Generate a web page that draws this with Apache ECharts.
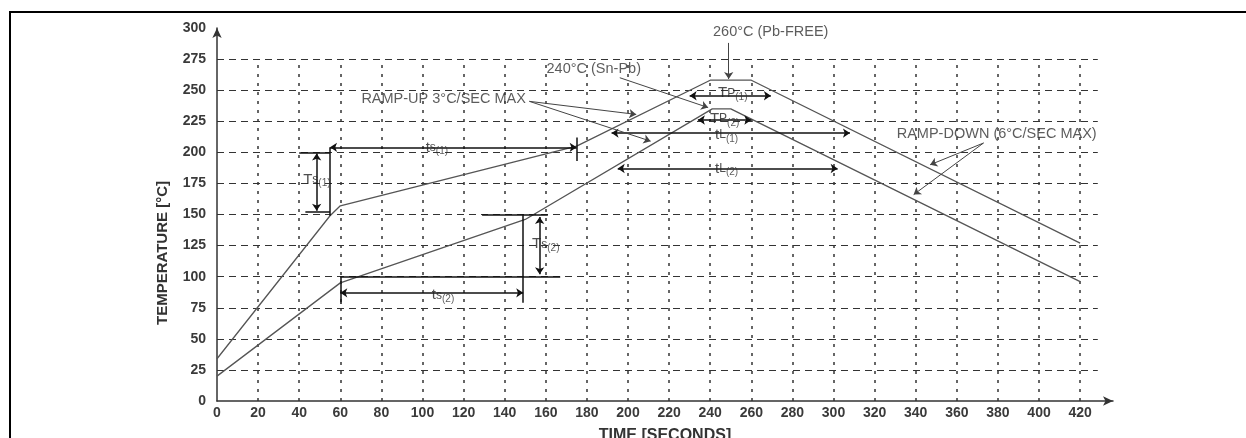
<!DOCTYPE html>
<html>
<head>
<meta charset="utf-8">
<script src="https://cdn.jsdelivr.net/npm/echarts@6/dist/echarts.min.js"></script>
<style>
  html, body { margin: 0; padding: 0; background: #fff; }
  #chart { width: 1246px; height: 438px; }
</style>
</head>
<body>
<div id="chart"></div>
<script>
// axis ticks
const timeTicks = [0, 20, 40, 60, 80, 100, 120, 140, 160, 180, 200, 220, 240, 260, 280, 300, 320, 340, 360, 380, 400, 420];
const tempTicks = [0, 25, 50, 75, 100, 125, 150, 175, 200, 225, 250, 275, 300];

// reflow profiles
const pbFreeTime = [0, 55, 60, 175, 240, 260, 420];
const pbFreeTemp = [34, 149, 157, 205, 258, 258, 127];
const snPbTime = [0, 60, 150, 241, 250, 420];
const snPbTemp = [20, 95, 146, 235, 235, 96];

// extent of the dashed grid
const gridTopTemp = 275;
const gridEndTime = 428.6;

// annotation geometry, in [time, temp]
const bracketLines = [
  [[55, 149], [55, 204]],
  [[175, 193], [175, 212]],
  [[40, 200], [55, 200]],
  [[43, 152], [55, 152]],
  [[60, 78], [60, 100]],
  [[149, 79], [149, 150]],
  [[129, 150], [161, 150]],
  [[60, 100], [167, 100]]
];
const spanArrows = [
  [[55, 204], [175, 204]],
  [[48.5, 153], [48.5, 199]],
  [[60, 87], [149, 87]],
  [[157, 102], [157, 148]],
  [[230, 245.5], [269.5, 245.5]],
  [[234, 226], [260, 226]],
  [[192, 215.5], [308, 215.5]],
  [[195, 187], [302, 187]]
];
const leaderArrows = [
  [[249, 288], [249, 259]],
  [[196, 260], [239, 236]],
  [[152, 241], [204, 230.5]],
  [[152, 241], [211, 209]],
  [[373, 207.5], [347, 190]],
  [[373, 207.5], [339, 166]]
];

// annotation texts
const plainNotes = [
  { text: '260°C (Pb-FREE)', at: [241.6, 296] },
  { text: '240°C (Sn-Pb)', at: [160.6, 266.5] },
  { text: 'RAMP-UP 3°C/SEC MAX', at: [70.5, 242.5] },
  { text: 'RAMP-DOWN (6°C/SEC MAX)', at: [331, 214] }
];
const subNotes = [
  { main: 't', mid: 's', sub: '(1)', at: [107, 204] },
  { main: 'T', mid: 's', sub: '(1)', at: [48.6, 178] },
  { main: 't', mid: 's', sub: '(2)', at: [110, 85] },
  { main: 'T', mid: 's', sub: '(2)', at: [160, 126] },
  { main: 'T', mid: 'P', sub: '(1)', at: [251, 247.5] },
  { main: 'T', mid: 'P', sub: '(2)', at: [247, 227] },
  { main: 't', mid: 'L', sub: '(1)', at: [248, 214] },
  { main: 't', mid: 'L', sub: '(2)', at: [248, 187] }
];

const FONT = '"Liberation Sans", Arial, sans-serif';
const zip = (xs, ys) => xs.map((x, i) => [x, ys[i]]);

const chart = echarts.init(document.getElementById('chart'));

const vGrid = timeTicks.filter(t => t > 0).map(t => ({ coords: [[t, 0], [t, gridTopTemp]] }));
const hGrid = tempTicks.filter(v => v > 0 && v <= gridTopTemp).map(v => ({ coords: [[0, v], [gridEndTime, v]] }));

const option = {
  animation: false,
  backgroundColor: '#fff',
  grid: { left: 217, right: 133, top: 28, bottom: 37, outerBoundsMode: 'none', containLabel: false },
  xAxis: {
    type: 'value', min: 0, max: 436, interval: 20,
    axisLine: { show: true, symbol: ['none', 'arrow'], symbolSize: [7, 10], lineStyle: { color: '#333', width: 1.5 } },
    axisTick: { show: false },
    splitLine: { show: false },
    axisLabel: { showMaxLabel: false, margin: 5, fontSize: 14, fontWeight: 'bold', color: '#3a3a3a', fontFamily: FONT },
    name: 'TIME [SECONDS]', nameLocation: 'middle', nameGap: 27,
    nameTextStyle: { fontSize: 16, fontWeight: 'bold', color: '#333', fontFamily: FONT }
  },
  yAxis: {
    type: 'value', min: 0, max: 300, interval: 25,
    axisLine: { show: true, symbol: ['none', 'arrow'], symbolSize: [7, 10], lineStyle: { color: '#333', width: 1.5 } },
    axisTick: { show: false },
    splitLine: { show: false },
    axisLabel: { margin: 11, fontSize: 14, fontWeight: 'bold', color: '#3a3a3a', fontFamily: FONT }
  },
  graphic: [
    {
      type: 'rect', silent: true,
      shape: { x: 10, y: 12, width: 1300, height: 500 },
      style: { fill: 'none', stroke: '#000', lineWidth: 2 }
    },
    {
      type: 'text', silent: true, x: 163, y: 253, rotation: Math.PI / 2,
      style: { text: 'TEMPERATURE [°C]', align: 'center', verticalAlign: 'middle', font: 'bold 15px ' + FONT, fill: '#333' }
    }
  ],
  series: [
    {
      type: 'lines', coordinateSystem: 'cartesian2d', silent: true, z: 1,
      lineStyle: { color: '#333', width: 1.5, type: [3, 6], opacity: 1 },
      data: vGrid
    },
    {
      type: 'lines', coordinateSystem: 'cartesian2d', silent: true, z: 1,
      lineStyle: { color: '#333', width: 1.2, type: [7, 5], opacity: 1 },
      data: hGrid
    },
    {
      name: 'Pb-free', type: 'line', z: 3, showSymbol: false, silent: true,
      lineStyle: { color: '#555', width: 1.3 },
      data: zip(pbFreeTime, pbFreeTemp)
    },
    {
      name: 'Sn-Pb', type: 'line', z: 3, showSymbol: false, silent: true,
      lineStyle: { color: '#555', width: 1.3 },
      data: zip(snPbTime, snPbTemp)
    },
    {
      type: 'lines', coordinateSystem: 'cartesian2d', silent: true, z: 4,
      lineStyle: { color: '#111', width: 1.5, opacity: 1 },
      data: bracketLines.map(c => ({ coords: c }))
    },
    {
      type: 'lines', coordinateSystem: 'cartesian2d', silent: true, z: 4,
      symbol: ['arrow', 'arrow'], symbolSize: 7,
      lineStyle: { color: '#111', width: 1.5, opacity: 1 },
      data: spanArrows.map(c => ({ coords: c }))
    },
    {
      type: 'lines', coordinateSystem: 'cartesian2d', silent: true, z: 4,
      symbol: ['none', 'arrow'], symbolSize: 7,
      lineStyle: { color: '#444', width: 1, opacity: 1 },
      data: leaderArrows.map(c => ({ coords: c }))
    },
    {
      type: 'scatter', silent: true, z: 5,
      symbolSize: 1, itemStyle: { color: 'transparent' },
      label: {
        show: true, position: [0, 0], align: 'left', verticalAlign: 'middle',
        fontSize: 14.5, color: '#333', fontFamily: FONT,
        formatter: p => p.data.text
      },
      data: plainNotes.map(n => ({ value: n.at, text: n.text }))
    },
    {
      type: 'scatter', silent: true, z: 5,
      symbolSize: 1, itemStyle: { color: 'transparent' },
      label: {
        show: true, position: 'inside',
        color: '#333', fontFamily: FONT,
        formatter: p => '{m|' + p.data.main + '}{n|' + p.data.mid + '}{s|' + p.data.sub + '}',
        rich: {
          m: { fontSize: 15, lineHeight: 18, color: '#222', fontFamily: FONT },
          n: { fontSize: 12, lineHeight: 18, color: '#222', fontFamily: FONT },
          s: { fontSize: 10, lineHeight: 10, verticalAlign: 'bottom', color: '#333', fontFamily: FONT }
        }
      },
      data: subNotes.map(n => ({ value: n.at, main: n.main, mid: n.mid, sub: n.sub }))
    }
  ]
};

chart.setOption(option);
</script>
</body>
</html>
